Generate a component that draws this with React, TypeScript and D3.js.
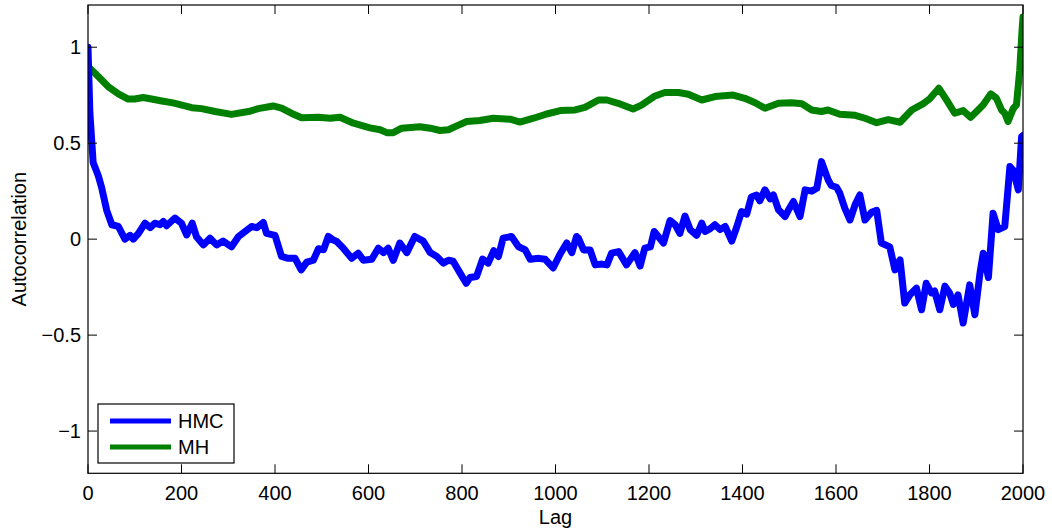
import React from "react";
import * as d3 from "d3";

const hmcLag = [0,4,11,22,29,40,51,65,79,90,97,108,122,133,143,154,161,168,186,200,211,223,232,247,261,275,289,307,322,336,350,361,375,382,400,414,428,443,456,468,482,493,504,514,525,532,546,564,578,589,607,621,632,642,653,667,682,699,717,732,746,760,771,781,796,809,817,831,844,856,868,878,888,906,921,935,946,964,978,995,1010,1024,1035,1045,1049,1060,1074,1085,1099,1110,1120,1135,1152,1170,1181,1191,1203,1211,1231,1245,1256,1266,1277,1288,1302,1313,1320,1331,1341,1352,1363,1377,1388,1398,1409,1419,1430,1437,1448,1459,1466,1477,1491,1498,1509,1523,1534,1548,1559,1569,1583,1590,1601,1608,1619,1630,1641,1651,1662,1676,1687,1697,1715,1726,1737,1747,1758,1772,1783,1793,1804,1811,1822,1833,1843,1851,1861,1872,1886,1897,1908,1915,1926,1936,1947,1961,1972,1979,1990,1997,2000];
const hmcVal = [1.0,0.66,0.4,0.33,0.27,0.15,0.075,0.066,0.0,0.02,0.0,0.03,0.083,0.06,0.083,0.075,0.092,0.07,0.11,0.083,0.022,0.083,0.013,-0.03,0.005,-0.03,-0.01,-0.04,0.014,0.04,0.066,0.06,0.087,0.03,0.02,-0.09,-0.1,-0.1,-0.16,-0.12,-0.11,-0.05,-0.055,0.014,-0.005,-0.012,-0.047,-0.1,-0.073,-0.11,-0.105,-0.047,-0.07,-0.047,-0.11,-0.02,-0.07,0.014,-0.01,-0.07,-0.09,-0.125,-0.11,-0.115,-0.177,-0.23,-0.2,-0.195,-0.104,-0.125,-0.06,-0.09,0.005,0.014,-0.04,-0.055,-0.105,-0.1,-0.105,-0.15,-0.077,-0.02,-0.07,0.014,0.005,-0.056,-0.056,-0.134,-0.13,-0.134,-0.073,-0.065,-0.134,-0.07,-0.14,-0.047,-0.04,0.04,-0.02,0.097,0.075,0.03,0.12,0.05,0.02,0.083,0.04,0.055,0.075,0.05,0.066,-0.01,0.066,0.144,0.13,0.22,0.23,0.2,0.257,0.21,0.23,0.153,0.118,0.15,0.196,0.118,0.257,0.25,0.265,0.404,0.31,0.28,0.27,0.24,0.16,0.1,0.18,0.23,0.1,0.14,0.15,-0.02,-0.04,-0.16,-0.108,-0.333,-0.29,-0.255,-0.368,-0.23,-0.28,-0.27,-0.368,-0.245,-0.28,-0.34,-0.29,-0.437,-0.238,-0.394,-0.177,-0.073,-0.2,0.135,0.05,0.066,0.378,0.36,0.257,0.534,0.54];

const mhLag = [0,22,43,65,86,100,118,136,158,182,222,243,272,307,343,364,396,414,436,457,493,518,539,568,603,625,639,653,671,710,732,753,771,789,810,838,867,903,924,953,981,1010,1042,1063,1092,1110,1134,1166,1184,1213,1234,1263,1284,1313,1341,1380,1405,1427,1448,1477,1505,1527,1548,1569,1583,1608,1641,1662,1687,1712,1737,1762,1786,1800,1820,1836,1854,1872,1888,1904,1915,1931,1943,1954,1961,1968,1979,1986,1993,1998,2000];
const mhVal = [0.9,0.847,0.795,0.757,0.73,0.73,0.738,0.73,0.72,0.71,0.685,0.68,0.665,0.65,0.665,0.68,0.694,0.683,0.655,0.633,0.635,0.63,0.635,0.604,0.58,0.57,0.555,0.555,0.578,0.586,0.578,0.566,0.57,0.59,0.613,0.618,0.63,0.625,0.61,0.63,0.652,0.67,0.673,0.687,0.725,0.725,0.708,0.678,0.698,0.746,0.764,0.764,0.755,0.725,0.743,0.751,0.734,0.711,0.682,0.708,0.711,0.705,0.673,0.665,0.673,0.651,0.645,0.63,0.607,0.623,0.609,0.673,0.705,0.73,0.786,0.727,0.656,0.67,0.635,0.673,0.7,0.757,0.735,0.673,0.656,0.613,0.68,0.7,0.88,1.09,1.158];

const xTicks = [0,200,400,600,800,1000,1200,1400,1600,1800,2000];
const yTicks = [-1,-0.5,0,0.5,1];
const yTickLabels = ["\u22121","\u22120.5","0","0.5","1"];
const seriesNames = ["HMC","MH"];
const seriesColors = ["#0000ff","#008000"];

const W = 1052, H = 531;
const L = 88, R = 1023, T = 5, B = 473.3;
const FONT = "'Liberation Sans', Arial, Helvetica, sans-serif";
const FS = 20;

export default function App() {
  const x = d3.scaleLinear().domain([0, 2000]).range([L, R]);
  const y = d3.scaleLinear().domain([-1.22, 1.22]).range([B, T]);
  const line = d3.line<[number, number]>().x(d => x(d[0])).y(d => y(d[1]));
  const hmc: [number, number][] = hmcLag.map((l, i) => [l, hmcVal[i]]);
  const mh: [number, number][] = mhLag.map((l, i) => [l, mhVal[i]]);
  const tl = 9;
  return (
    <svg width={W} height={H} style={{ position: "absolute", left: 0, top: 0, background: "#fff" }} fontFamily={FONT}>
      <rect x={0} y={0} width={W} height={H} fill="#fff" />
      <defs>
        <clipPath id="clip"><rect x={L} y={T} width={R - L} height={B - T} /></clipPath>
      </defs>
      <g clipPath="url(#clip)">
        <path d={line(mh) || ""} fill="none" stroke={seriesColors[1]} strokeWidth={7} strokeLinejoin="round" strokeLinecap="round" />
        <path d={line(hmc) || ""} fill="none" stroke={seriesColors[0]} strokeWidth={7} strokeLinejoin="round" strokeLinecap="round" />
      </g>
      <rect x={L} y={T} width={R - L} height={B - T} fill="none" stroke="#000" strokeWidth={1.2} />
      {xTicks.map(t => (
        <g key={"x" + t}>
          <line x1={x(t)} x2={x(t)} y1={B} y2={B - tl} stroke="#000" strokeWidth={1} />
          <line x1={x(t)} x2={x(t)} y1={T} y2={T + tl} stroke="#000" strokeWidth={1} />
          <text x={x(t)} y={499.5} textAnchor="middle" fontSize={FS} fill="#000">{t}</text>
        </g>
      ))}
      {yTicks.map((t, i) => (
        <g key={"y" + t}>
          <line x1={L} x2={L + tl} y1={y(t)} y2={y(t)} stroke="#000" strokeWidth={1} />
          <line x1={R} x2={R - tl} y1={y(t)} y2={y(t)} stroke="#000" strokeWidth={1} />
          <text x={81} y={y(t) + 7} textAnchor="end" fontSize={FS} fill="#000">{yTickLabels[i]}</text>
        </g>
      ))}
      <text x={(L + R) / 2} y={523.5} textAnchor="middle" fontSize={FS} fill="#000">Lag</text>
      <text transform={`translate(26,${(T + B) / 2}) rotate(-90)`} textAnchor="middle" fontSize={FS} fill="#000">Autocorrelation</text>
      <g>
        <rect x={98} y={404} width={136} height={59} fill="#fff" stroke="#000" strokeWidth={1.2} />
        {seriesNames.map((n, i) => (
          <g key={n}>
            <line x1={110} x2={171} y1={421 + i * 26} y2={421 + i * 26} stroke={seriesColors[i]} strokeWidth={5} />
            <text x={178} y={421 + i * 26 + 7} fontSize={FS} fill="#000">{n}</text>
          </g>
        ))}
      </g>
    </svg>
  );
}
